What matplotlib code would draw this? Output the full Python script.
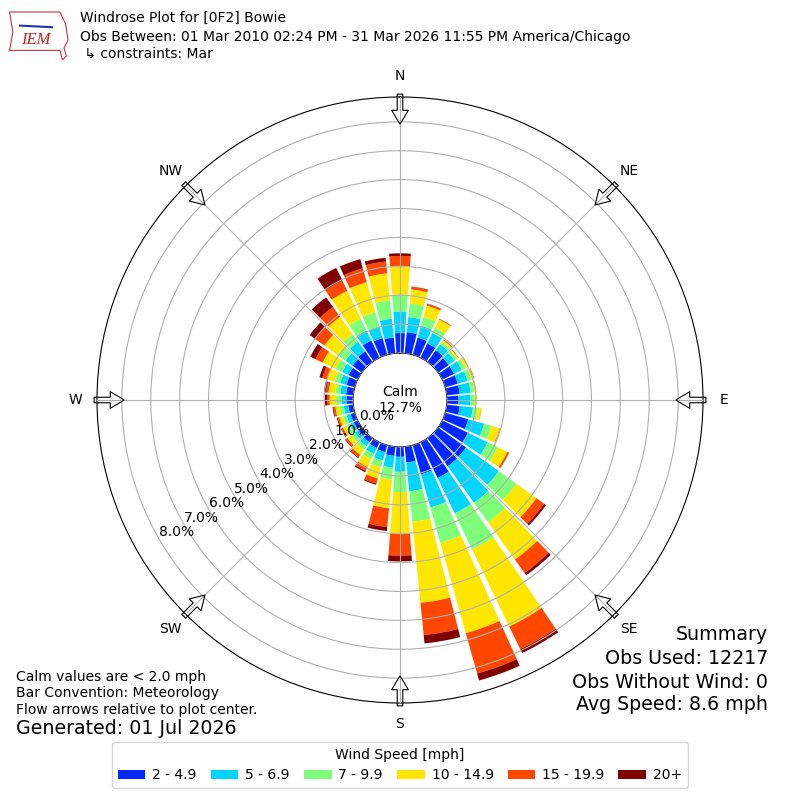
import numpy as np
import matplotlib
matplotlib.use("Agg")
import matplotlib.pyplot as plt
from matplotlib.patches import Polygon

# wind directions (deg, meteorological, 10 deg bins)
directions = np.arange(0, 360, 10)

# percent of obs per direction for each speed class
spd_2_5 = [0.69, 0.73, 0.62, 0.55, 0.50, 0.45, 0.45, 0.45, 0.45, 0.40, 0.45, 0.83,
           0.99, 1.19, 1.20, 1.37, 1.05, 0.55, 0.34, 0.32, 0.25, 0.22, 0.18, 0.15,
           0.15, 0.15, 0.17, 0.23, 0.25, 0.30, 0.35, 0.40, 0.45, 0.66, 0.60, 0.55]
spd_5_7 = [0.75, 0.53, 0.43, 0.40, 0.25, 0.25, 0.30, 0.35, 0.38, 0.41, 0.46, 0.57,
           0.75, 1.40, 1.56, 1.36, 1.19, 1.00, 0.52, 0.41, 0.30, 0.23, 0.17, 0.15,
           0.15, 0.15, 0.16, 0.17, 0.20, 0.22, 0.25, 0.30, 0.41, 0.39, 0.41, 0.65]
spd_7_10 = [0.58, 0.47, 0.31, 0.20, 0.10, 0.10, 0.15, 0.15, 0.13, 0.15, 0.17, 0.27,
            0.39, 0.75, 0.83, 1.39, 1.27, 1.06, 0.70, 0.41, 0.25, 0.20, 0.15, 0.15,
            0.12, 0.12, 0.14, 0.18, 0.17, 0.20, 0.25, 0.30, 0.32, 0.44, 0.52, 0.64]
spd_10_15 = [0.99, 0.49, 0.41, 0.32, 0.08, 0.06, 0.08, 0.08, 0.06, 0.08, 0.12, 0.29,
             0.37, 0.85, 1.59, 2.96, 3.25, 2.82, 1.45, 1.00, 0.40, 0.30, 0.22, 0.17,
             0.15, 0.14, 0.15, 0.23, 0.24, 0.28, 0.50, 0.60, 0.74, 1.08, 1.08, 0.94]
spd_15_20 = [0.35, 0.09, 0.06, 0.03, 0.02, 0.02, 0.02, 0.02, 0.01, 0.00, 0.01, 0.02,
             0.06, 0.33, 0.57, 0.87, 1.45, 1.12, 0.75, 0.65, 0.18, 0.15, 0.10, 0.08,
             0.06, 0.06, 0.07, 0.08, 0.09, 0.17, 0.27, 0.38, 0.42, 0.39, 0.50, 0.41]
spd_20p = [0.09, 0.01, 0.01, 0.00, 0.01, 0.00, 0.00, 0.00, 0.00, 0.00, 0.00, 0.00,
           0.01, 0.08, 0.10, 0.15, 0.25, 0.29, 0.20, 0.14, 0.04, 0.05, 0.03, 0.02,
           0.02, 0.03, 0.03, 0.08, 0.07, 0.10, 0.20, 0.24, 0.41, 0.49, 0.33, 0.13]

speed_labels = ["2 - 4.9", "5 - 6.9", "7 - 9.9", "10 - 14.9", "15 - 19.9", "20+"]
calm_pct = 12.7
rings = [0, 1, 2, 3, 4, 5, 6, 7, 8]
compass = ["N", "NE", "E", "SE", "S", "SW", "W", "NW"]

# %%
fig = plt.figure(figsize=(8, 8), dpi=100)
ax = fig.add_axes([0.12125, 0.12125, 0.7575, 0.7575], projection="polar")
ax.set_theta_zero_location("N")
ax.set_theta_direction(-1)

colors = plt.cm.jet(np.linspace(0, 1, 7))[1:]
theta = np.deg2rad(directions)
width = np.deg2rad(10) * 0.85

bottom = np.zeros(len(directions))
for vals, lab, c in zip([spd_2_5, spd_5_7, spd_7_10, spd_10_15, spd_15_20, spd_20p],
                        speed_labels, colors):
    ax.bar(theta, vals, width=width, bottom=bottom, color=c, label=lab,
           linewidth=0, zorder=1)
    bottom = bottom + np.array(vals)

ax.set_ylim(0, 8.86)
ax.set_rorigin(-1.626)
ax.set_axisbelow(False)
ax.set_yticks(rings)
ax.set_yticklabels([])
ax.set_xticks(np.deg2rad(np.arange(0, 360, 45)))
ax.set_xticklabels([])
ax.grid(True, color="#b0b0b0", lw=0.8)

# radial labels along the SW-ish spoke
for r in rings:
    ax.text(np.deg2rad(240), r, f"{r:.1f}%", ha="left", va="bottom",
            fontsize=10, zorder=5)

# compass labels + flow arrows
for i, name in enumerate(compass):
    th = np.deg2rad(45 * i)
    ax.text(th, 9.6, name, ha="center", va="center", fontsize=10)
    ax.annotate("", xy=(th, 7.92), xytext=(th, 8.96), xycoords="data",
                annotation_clip=False,
                arrowprops=dict(arrowstyle="simple,head_length=1.0,head_width=1.2,tail_width=0.4",
                                fc="none", ec="black", lw=0.8, shrinkA=0, shrinkB=0,
                                clip_on=False))

ax.text(0, -1.626, f"Calm\n{calm_pct}%", ha="center", va="center", fontsize=10)

# %%
# header
fig.text(0.1, 0.9775, "Windrose Plot for [0F2] Bowie", fontsize=10, va="center")
fig.text(0.1, 0.95375, "Obs Between: 01 Mar 2010 02:24 PM - 31 Mar 2026 11:55 PM America/Chicago",
         fontsize=10, va="center")
fig.text(0.1, 0.9325, " \u21b3 constraints: Mar", fontsize=10, va="center")

# little IEM logo
iowa = [(0.012, 0.985), (0.075, 0.985), (0.082, 0.97), (0.085, 0.95), (0.08, 0.94),
        (0.083, 0.93), (0.078, 0.925), (0.075, 0.937), (0.012, 0.937), (0.016, 0.96)]
fig.add_artist(Polygon(iowa, closed=True, fill=False, ec="#cc3333", lw=0.8,
                       transform=fig.transFigure))
fig.text(0.045, 0.95, "IEM", color="#cc2222", fontsize=12, style="italic",
         family="Liberation Serif", ha="center", va="center")
fig.add_artist(plt.Line2D([0.025, 0.065], [0.968, 0.966], color="#2233bb", lw=1.5,
                          transform=fig.transFigure))

# footer notes
fig.text(0.02, 0.15375, "Calm values are < 2.0 mph", fontsize=10, va="center")
fig.text(0.02, 0.13375, "Bar Convention: Meteorology", fontsize=10, va="center")
fig.text(0.02, 0.1125, "Flow arrows relative to plot center.", fontsize=10, va="center")
fig.text(0.02, 0.09, "Generated: 01 Jul 2026", fontsize=13.7, va="center")

fig.text(0.96, 0.20625, "Summary", fontsize=13.7, ha="right", va="center")
fig.text(0.96, 0.17625, "Obs Used: 12217", fontsize=13.7, ha="right", va="center")
fig.text(0.96, 0.1475, "Obs Without Wind: 0", fontsize=13.7, ha="right", va="center")
fig.text(0.96, 0.11875, "Avg Speed: 8.6 mph", fontsize=13.7, ha="right", va="center")

handles, labels = ax.get_legend_handles_labels()
fig.legend(handles, labels, loc="center", bbox_to_anchor=(0.5, 0.04375), ncol=6,
           title="Wind Speed [mph]", fontsize=10, title_fontsize=10,
           handletextpad=0.5, columnspacing=1.0)

fig.savefig("out.png", dpi=100)
